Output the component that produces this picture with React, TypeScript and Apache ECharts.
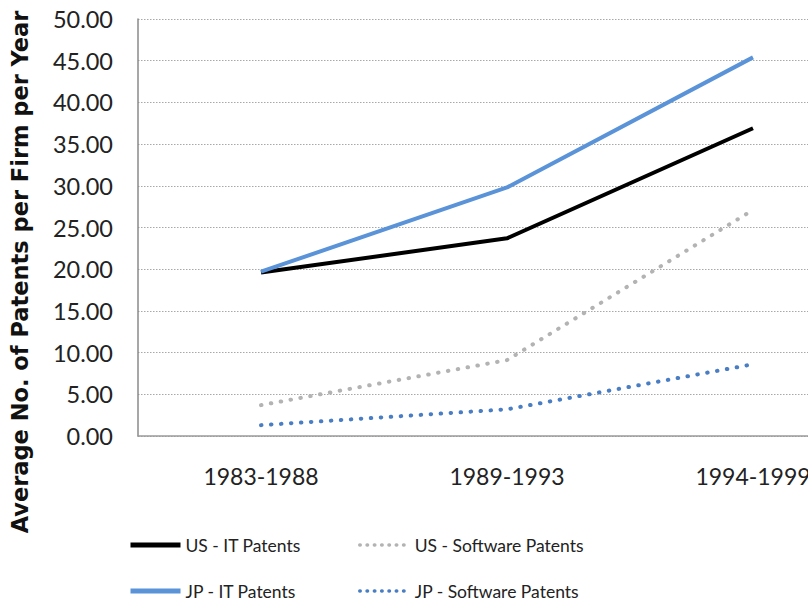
import React, { useEffect, useRef } from "react";
import * as echarts from "echarts";

const categories = ["1983-1988", "1989-1993", "1994-1999"];
const usIT = [19.6, 23.7, 36.9];
const jpIT = [19.7, 29.8, 45.4];
const usSW = [3.7, 9.1, 27.1];
const jpSW = [1.3, 3.2, 8.6];
const yTitle = "Average No. of Patents per Firm per Year";

const FONT = "Lato";

export default function App() {
  const ref = useRef<HTMLDivElement>(null);
  useEffect(() => {
    if (!ref.current) return;
    const chart = echarts.init(ref.current, undefined, { renderer: "svg" });
    const dotted = [0.5, 9.5];
    const legendBase = (name: string, left: number, top: number, isDotted: boolean) => ({
      data: [name],
      left,
      top,
      itemWidth: 50,
      itemHeight: 14,
      itemGap: 0,
      itemStyle: { opacity: 0 },
      lineStyle: isDotted
        ? { width: 3.5, type: [0.5, 6.8], cap: "round" }
        : { width: 5 },
      textStyle: { fontFamily: FONT, fontSize: 17.5, color: "#222" },
    });
    chart.setOption({
      animation: false,
      backgroundColor: "#fff",
      grid: { left: 138, top: 19, right: -68, height: 417, outerBoundsMode: "none", containLabel: false },
      xAxis: {
        type: "category",
        data: categories,
        boundaryGap: true,
        axisLine: { lineStyle: { color: "#9a9a9a", width: 1.5 } },
        axisTick: { show: false },
        axisLabel: { fontFamily: FONT, fontSize: 23, color: "#222", margin: 28 },
      },
      yAxis: {
        type: "value",
        min: 0,
        max: 50,
        interval: 5,
        axisLine: { show: true, lineStyle: { color: "#8a8a8a", width: 1.5 } },
        axisTick: { show: false },
        axisLabel: {
          fontFamily: FONT,
          fontSize: 23.5,
          color: "#222",
          margin: 25,
          formatter: (v: number) => v.toFixed(2),
        },
        splitLine: { lineStyle: { color: "#a8a8a8", width: 1, type: [1.5, 1.5] } },
      },
      legend: [
        legendBase("US - IT Patents", 123, 531, false),
        legendBase("US - Software Patents", 353, 531, true),
        legendBase("JP - IT Patents", 123, 577, false),
        legendBase("JP - Software Patents", 353, 577, true),
      ],
      graphic: [
        {
          type: "text",
          x: 20,
          y: 272,
          rotation: Math.PI / 2,
          style: {
            text: yTitle,
            fontFamily: "DejaVu Sans",
            fontWeight: "bold",
            fontSize: 22.5,
            fill: "#111",
            align: "center",
            verticalAlign: "middle",
          },
        },
      ],
      series: [
        {
          name: "US - IT Patents",
          type: "line",
          data: usIT,
          symbol: "none",
          lineStyle: { color: "#000", width: 4 },
          itemStyle: { color: "#000" },
        },
        {
          name: "US - Software Patents",
          type: "line",
          data: usSW,
          symbol: "none",
          lineStyle: { color: "#b3b3b3", width: 4, type: dotted, cap: "round" },
          itemStyle: { color: "#b3b3b3" },
        },
        {
          name: "JP - IT Patents",
          type: "line",
          data: jpIT,
          symbol: "none",
          lineStyle: { color: "#5a93d8", width: 4 },
          itemStyle: { color: "#5a93d8" },
        },
        {
          name: "JP - Software Patents",
          type: "line",
          data: jpSW,
          symbol: "none",
          lineStyle: { color: "#4a7ec4", width: 4, type: dotted, cap: "round" },
          itemStyle: { color: "#4a7ec4" },
        },
      ],
    });
    return () => chart.dispose();
  }, []);
  return (
    <div
      ref={ref}
      style={{ position: "absolute", left: 0, top: 0, width: 808, height: 607 }}
    />
  );
}
